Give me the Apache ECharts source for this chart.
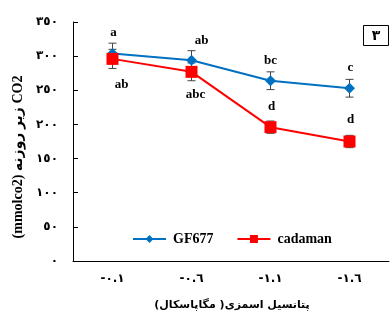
<!DOCTYPE html>
<html>
<head>
<meta charset="utf-8">
<script src="https://cdn.jsdelivr.net/npm/echarts@6/dist/echarts.min.js"></script>
<style>html,body{margin:0;padding:0;background:#fff}#c{width:390px;height:320px}</style>
</head>
<body>
<div id="c"></div>
<script>
const categories = ['-٠.١', '-٠.٦', '-١.١', '-١.٦'];
const gf677 = [304, 294, 264, 253];
const gf677Err = [15, 14, 13, 13];
const cadaman = [296, 277, 196, 175];
const cadamanErr = [14, 13, 9, 9];
const gf677Letters = ['a', 'ab', 'bc', 'c'];
const cadamanLetters = ['ab', 'abc', 'd', 'd'];
const yTickLabels = ['٠', '٥٠', '١٠٠', '١٥٠', '٢٠٠', '٢٥٠', '٣٠٠', '٣٥٠'];
const seriesNames = ['GF677', 'cadaman'];
// titles as pieces in visual left-to-right order (RTL text: پتانسیل اسمزی (مگاپاسکال), CO2 زیر روزنه (mmolco2))
const xTitlePieces = ['(', 'مگاپاسکال', ' ', ')', 'اسمزی', ' ', 'پتانسیل'];
const yTitlePieces = ['(mmolco2)', ' ', 'روزنه', ' ', 'زیر', ' ', 'CO2'];

// label placement (style, not data)
const gfLabelOffset = [[1, -21], [10, -20], [0, -20], [1, -21]];
const caLabelOffset = [[9, 26], [4, 23], [1, -21], [1, -22]];

const chart = echarts.init(document.getElementById('c'), null, {renderer: 'canvas'});
const letterFont = {fontFamily: 'Liberation Serif', fontWeight: 'bold', fontSize: 13, color: '#000'};

function errSeries(vals, errs, color) {
  return {
    type: 'custom', z: 1, silent: true,
    data: vals.map((v, i) => [i, v, errs[i]]),
    renderItem: function (params, api) {
      const i = api.value(0), v = api.value(1), e = api.value(2);
      const top = api.coord([i, v + e]);
      const bot = api.coord([i, v - e]);
      const w = 4;
      const st = {stroke: color, lineWidth: 1};
      return {type: 'group', children: [
        {type: 'line', shape: {x1: top[0], y1: top[1], x2: bot[0], y2: bot[1]}, style: st},
        {type: 'line', shape: {x1: top[0] - w, y1: top[1], x2: top[0] + w, y2: top[1]}, style: st},
        {type: 'line', shape: {x1: bot[0] - w, y1: bot[1], x2: bot[0] + w, y2: bot[1]}, style: st}
      ]};
    }
  };
}

// lay text pieces out left to right, centred on the group's origin
const mctx = document.createElement('canvas').getContext('2d');
function pieceRow(pieces, font) {
  mctx.font = font;
  const w = pieces.map(s => mctx.measureText(s).width);
  const total = w.reduce((a, b) => a + b, 0);
  let cx = -total / 2;
  return pieces.map((s, k) => {
    const g = {type: 'text', x: cx, y: 0,
      style: {text: s, fill: '#000', align: 'left', verticalAlign: 'middle', font: font}};
    cx += w[k];
    return g;
  });
}

chart.setOption({
  animation: false,
  grid: {left: 73, right: 1, top: 22, bottom: 59},
  legend: {
    left: 127, top: 227, itemWidth: 33, itemHeight: 10, itemGap: 23,
    data: seriesNames,
    textStyle: {fontFamily: 'Liberation Serif', fontWeight: 'bold', fontSize: 14, color: '#000', padding: [0, 0, 0, 2]}
  },
  xAxis: {
    type: 'category', data: categories, boundaryGap: true,
    axisLine: {lineStyle: {color: '#000', width: 1}},
    axisTick: {alignWithLabel: true, inside: true, length: 4, lineStyle: {color: '#000'}},
    axisLabel: {margin: 12, color: '#000', fontFamily: 'DejaVu Sans', fontWeight: 'bold', fontSize: 12}
  },
  yAxis: {
    type: 'value', min: 0, max: 350, interval: 50,
    axisLine: {show: true, lineStyle: {color: '#000', width: 1}},
    axisTick: {show: true, inside: true, length: 5, lineStyle: {color: '#000'}},
    splitLine: {show: false},
    axisLabel: {margin: 15, color: '#000', fontFamily: 'DejaVu Sans', fontWeight: 'bold', fontSize: 12,
      formatter: v => yTickLabels[Math.round(v / 50)]}
  },
  graphic: [
    {type: 'group', x: 18, y: 157, rotation: Math.PI / 2,
      children: pieceRow(yTitlePieces, "bold 14px 'Liberation Serif', 'DejaVu Sans'")},
    {type: 'group', x: 232, y: 305,
      children: pieceRow(xTitlePieces, "bold 11px 'DejaVu Sans'")},
    {type: 'rect', shape: {x: 363.5, y: 25.5, width: 25, height: 20},
      style: {fill: '#fff', stroke: '#000', lineWidth: 1}},
    {type: 'text', x: 376, y: 36,
      style: {text: '٣', fill: '#000', align: 'center', verticalAlign: 'middle', font: "bold 14px 'DejaVu Sans'"}}
  ],
  series: [
    errSeries(gf677, gf677Err, '#444'),
    errSeries(cadaman, cadamanErr, '#444'),
    {
      name: seriesNames[0], type: 'line', z: 3,
      data: gf677.map((v, i) => ({value: v, label: {offset: gfLabelOffset[i]}})),
      symbol: 'diamond', symbolSize: 11,
      lineStyle: {color: '#0070C0', width: 2},
      itemStyle: {color: '#0070C0'},
      label: Object.assign({show: true, position: 'inside', formatter: p => gf677Letters[p.dataIndex]}, letterFont)
    },
    {
      name: seriesNames[1], type: 'line', z: 4,
      data: cadaman.map((v, i) => ({value: v, label: {offset: caLabelOffset[i]}})),
      symbol: 'rect', symbolSize: 12,
      lineStyle: {color: '#FF0000', width: 2},
      itemStyle: {color: '#FF0000'},
      label: Object.assign({show: true, position: 'inside', formatter: p => cadamanLetters[p.dataIndex]}, letterFont)
    }
  ]
});
</script>
</body>
</html>
